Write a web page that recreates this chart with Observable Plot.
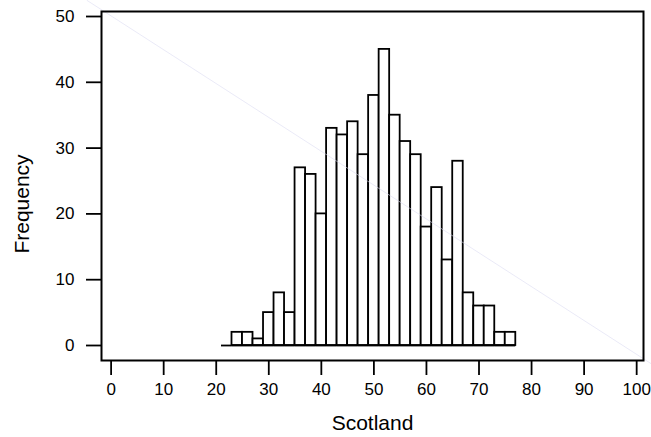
<!DOCTYPE html>
<html>
<head>
<meta charset="utf-8">
<script src="https://cdn.jsdelivr.net/npm/d3@7"></script>
<script src="https://cdn.jsdelivr.net/npm/@observablehq/plot@0.6"></script>
<style>
  html, body { margin: 0; padding: 0; background: #fff; }
  #chart svg { display: block; }
</style>
</head>
<body>
<div id="chart"></div>
<script>
// Histogram bins (lower edges, width 2) and counts
const binStart = [21,23,25,27,29,31,33,35,37,39,41,43,45,47,49,51,53,55,57,59,61,63,65,67,69,71,73,75];
const binWidth = 2;
const counts   = [0,2,2,1,5,8,5,27,26,20,33,32,34,29,38,45,35,31,29,18,24,13,28,8,6,6,2,2];
const xTicks = [0,10,20,30,40,50,60,70,80,90,100];
const yTicks = [0,10,20,30,40,50];
const xTitle = "Scotland";
const yTitle = "Frequency";
// faint diagonal stray line (data units)
const diagX = [-4.55, 102.7];
const diagY = [52.43, -2.74];

const bins = binStart.map((s, i) => ({x1: s, x2: s + binWidth, count: counts[i]}));
const diag = diagX.map((x, i) => ({x, y: diagY[i]}));

const chart = Plot.plot({
  width: 651,
  height: 437,
  marginLeft: 101,
  marginRight: 8,
  marginTop: 11,
  marginBottom: 77,
  style: {fontFamily: '"Liberation Sans", Arial, sans-serif', background: "#fff", overflow: "visible"},
  x: {domain: [-1.83, 101.3], ticks: xTicks},
  y: {domain: [-2.28, 50.76], ticks: yTicks},
  marks: [
    Plot.rectY(bins, {x1: "x1", x2: "x2", y1: 0, y2: "count", fill: "white", stroke: "black", strokeWidth: 1.8}),
    Plot.ruleY(bins, {x1: "x1", x2: "x2", y: 0, stroke: "black", strokeWidth: 1.8}),
    Plot.line(diag, {x: "x", y: "y", stroke: "#dcdcf2", strokeWidth: 0.6, clip: false}),
    Plot.frame({stroke: "black", strokeWidth: 2}),
    Plot.axisX({ticks: xTicks, tickSize: 15, tickPadding: 7, tickFormat: d => d, fontSize: 17, strokeWidth: 1.8,
      label: xTitle, labelAnchor: "center", labelArrow: "none", labelOffset: 69}),
    Plot.axisY({ticks: yTicks, tickSize: 15, tickPadding: 12, tickFormat: d => d, fontSize: 17, strokeWidth: 1.8,
      label: yTitle, labelAnchor: "center", labelArrow: "none", labelOffset: 87})
  ]
});
chart.querySelectorAll("text").forEach(t => {
  const s = t.textContent.trim();
  if (s === xTitle || s === yTitle) t.setAttribute("font-size", "21");
});
const yl = chart.querySelector("[aria-label='y-axis label']");
if (yl) yl.setAttribute("transform", ((yl.getAttribute("transform") || "") + " translate(0,18)").trim());
document.getElementById("chart").appendChild(chart);
</script>
</body>
</html>
